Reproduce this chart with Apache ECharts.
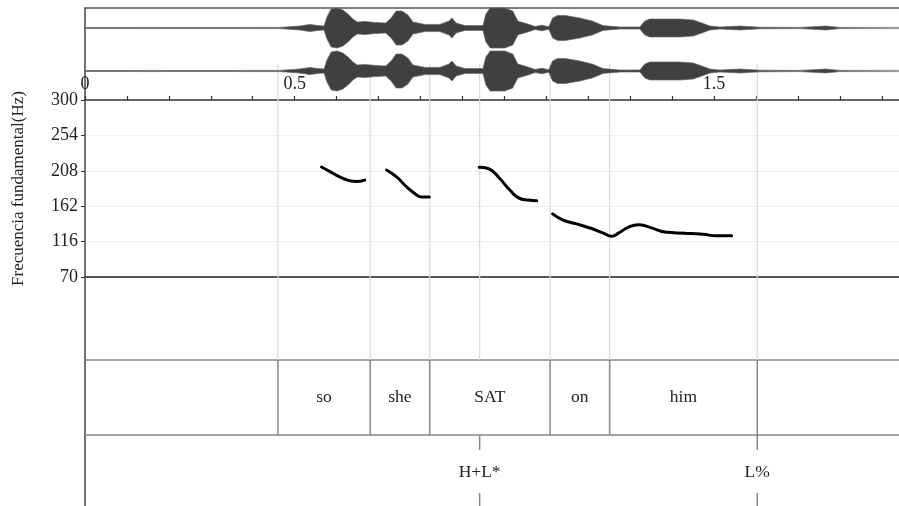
<!DOCTYPE html>
<html><head><meta charset="utf-8">
<script src="https://cdn.jsdelivr.net/npm/echarts@6/dist/echarts.min.js"></script>
<style>html,body{margin:0;padding:0;background:#fff}#c{width:899px;height:506px}</style>
</head><body><div id="c"></div>
<script>
// ---- data ----
const T_MAX = 1.941;                       // seconds shown
const f0Ticks = [70, 116, 162, 208, 254, 300];
const timeLabels = [0, 0.5, 1.5];
// waveform amplitude envelope [time s, relative amplitude]
const waveEnvelope = [
  [0.000,0.02],[0.155,0.03],[0.273,0.02],[0.392,0.03],[0.464,0.03],[0.512,0.10],
  [0.536,0.18],[0.556,0.12],[0.570,0.10],[0.577,0.55],[0.587,0.95],[0.601,1.00],
  [0.615,0.90],[0.627,0.70],[0.639,0.45],[0.649,0.30],[0.668,0.33],[0.691,0.28],
  [0.717,0.25],[0.730,0.50],[0.742,0.85],[0.756,0.85],[0.770,0.65],[0.782,0.30],
  [0.811,0.18],[0.846,0.18],[0.868,0.35],[0.875,0.50],[0.885,0.25],[0.906,0.12],
  [0.949,0.12],[0.956,0.70],[0.966,1.00],[1.001,1.00],[1.020,0.85],[1.032,0.35],
  [1.056,0.20],[1.073,0.08],[1.090,0.14],[1.106,0.06],[1.115,0.50],[1.127,0.63],
  [1.146,0.62],[1.180,0.50],[1.211,0.34],[1.235,0.12],[1.276,0.05],[1.323,0.05],
  [1.335,0.35],[1.347,0.45],[1.419,0.45],[1.450,0.40],[1.471,0.25],[1.490,0.10],
  [1.514,0.05],[1.562,0.10],[1.609,0.04],[1.705,0.03],[1.767,0.10],[1.800,0.03],
  [1.941,0.03]
];
// F0 contour pieces [time s, Hz]
const pitchSo = [[0.564,213],[0.584,207],[0.600,202],[0.616,198],[0.631,195],[0.647,194],[0.667,196]];
const pitchShe = [[0.719,209],[0.743,200],[0.767,187],[0.790,177],[0.802,174],[0.821,174]];
const pitchSat = [[0.940,212.5],[0.961,211],[0.989,198],[1.013,183],[1.037,172],[1.057,170],[1.077,169]];
const pitchOnHim = [[1.115,152],[1.140,144],[1.172,139],[1.208,133],[1.236,127],[1.256,123],[1.272,127],
  [1.295,134.5],[1.319,138],[1.347,134.5],[1.387,128],[1.430,127],[1.474,125.5],
  [1.506,123.5],[1.542,123.5]];
// word tier [label, start, end]
const wordTier = [["",0,0.460],["so",0.460,0.680],["she",0.680,0.822],["SAT",0.822,1.109],
  ["on",1.109,1.251],["him",1.251,1.603],["",1.603,1.941]];
// tone tier [label, time]
const toneTier = [["H+L*",0.941],["L%",1.603]];

// ---- derived ----
const F0_BASE = f0Ticks[0];
const F0_STEP = f0Ticks[1] - f0Ticks[0];
const F0_SPAN = f0Ticks[f0Ticks.length-1] - F0_BASE;
const guideTimes = [];
wordTier.forEach(w => { if (w[1] > 0) guideTimes.push(w[1]); });
toneTier.forEach(t => { if (!guideTimes.some(g => Math.abs(g - t[1]) < 1e-6)) guideTimes.push(t[1]); });
const FONT = '"Liberation Serif", "Times New Roman", serif';

const L = 85;
const grids = [
  {left:L, right:0, top:8, height:40},     // 0 channel 1
  {left:L, right:0, top:51, height:40},    // 1 channel 2
  {left:L, right:0, top:100, height:177},  // 2 pitch
  {left:L, right:0, top:64, height:296},   // 3 guide lines
  {left:L, right:0, top:360, height:75},   // 4 word tier
  {left:L, right:0, top:435, height:72},   // 5 tone tier
  {left:L, right:0, top:8, height:499}     // 6 frame
];
const hiddenX = i => ({type:'value', gridIndex:i, min:0, max:T_MAX, show:false});
const xAxes = [
  hiddenX(0), hiddenX(1),
  {type:'value', gridIndex:2, min:0, max:T_MAX, interval:0.1, position:'top',
   axisLine:{show:true, onZero:false, lineStyle:{color:'#333', width:1.5}},
   axisTick:{show:true, length:4, lineStyle:{color:'#333', width:1.2}},
   splitLine:{show:false},
   axisLabel:{show:true, margin:7, fontFamily:FONT, fontSize:18, color:'#222', showMinLabel:true, showMaxLabel:false,
     formatter: v => { const m = timeLabels.find(l => Math.abs(l - v) < 1e-6); return m === undefined ? '' : String(m); }}},
  hiddenX(3),
  {type:'value', gridIndex:4, min:0, max:T_MAX, position:'top',
   axisLine:{show:true, onZero:false, lineStyle:{color:'#888', width:1.5}}, axisTick:{show:false}, axisLabel:{show:false}, splitLine:{show:false}},
  {type:'value', gridIndex:5, min:0, max:T_MAX, position:'top',
   axisLine:{show:true, onZero:false, lineStyle:{color:'#888', width:1.5}}, axisTick:{show:false}, axisLabel:{show:false}, splitLine:{show:false}},
  {type:'value', gridIndex:6, min:0, max:T_MAX, position:'top',
   axisLine:{show:true, onZero:false, lineStyle:{color:'#555', width:1.5}}, axisTick:{show:false}, axisLabel:{show:false}, splitLine:{show:false}},
  {type:'value', gridIndex:2, min:0, max:T_MAX, position:'bottom',
   axisLine:{show:true, onZero:false, lineStyle:{color:'#555', width:2}}, axisTick:{show:false}, axisLabel:{show:false}, splitLine:{show:false}}
];
const yAxes = [
  {type:'value', gridIndex:0, min:-1, max:1, show:false},
  {type:'value', gridIndex:1, min:-1, max:1, show:false},
  {type:'value', gridIndex:2, min:0, max:F0_SPAN, interval:F0_STEP,
   name:'Frecuencia fundamental(Hz)', nameLocation:'middle', nameGap:58,
   nameTextStyle:{fontFamily:FONT, fontSize:17, color:'#222'},
   axisLine:{show:false}, axisTick:{show:true, length:4, lineStyle:{color:'#333'}},
   axisLabel:{margin:7, fontFamily:FONT, fontSize:18, color:'#222', formatter: v => String(v + F0_BASE)},
   splitLine:{show:true, lineStyle:{color:'#efefef', width:1}}},
  {type:'value', gridIndex:3, min:0, max:1, show:false},
  {type:'value', gridIndex:4, min:0, max:1, show:false},
  {type:'value', gridIndex:5, min:0, max:1, show:false},
  {type:'value', gridIndex:6, min:0, max:1, axisLine:{show:true, lineStyle:{color:'#444', width:1.5}},
   axisTick:{show:false}, axisLabel:{show:false}, splitLine:{show:false}}
];

const waveSeries = [];
[0,1].forEach(ch => {
  [1,-1].forEach(sign => {
    waveSeries.push({type:'line', xAxisIndex:ch, yAxisIndex:ch, symbol:'none', silent:true, clip:false,
      data: waveEnvelope.map(p => [p[0], sign*p[1]]),
      lineStyle:{color:'#666', width:0.7}, areaStyle:{color:'#404040', opacity:1}, z:3});
  });
});
const pitchSeries = [pitchSo, pitchShe, pitchSat, pitchOnHim].map(seg => ({
  type:'line', xAxisIndex:2, yAxisIndex:2, symbol:'none', smooth:0.5, silent:true, clip:false,
  data: seg.map(p => [p[0], p[1] - F0_BASE]),
  lineStyle:{color:'#000', width:3, cap:'round'}, z:5
}));

const guideSeries = {
  type:'custom', xAxisIndex:3, yAxisIndex:3, silent:true, clip:false, z:1,
  data: guideTimes.map(t => [t, 0]), encode:{x:0, y:1},
  renderItem: (params, api) => {
    const t = api.value(0);
    const a = api.coord([t, 0]), b = api.coord([t, 1]);
    return {type:'line', shape:{x1:a[0], y1:a[1], x2:b[0], y2:b[1]}, style:{stroke:'#dadada', lineWidth:1.2}};
  }
};
const wordSeries = {
  type:'custom', xAxisIndex:4, yAxisIndex:4, silent:true, clip:false, z:4,
  data: wordTier.map(w => [w[1], w[2]]), encode:{x:[0,1]},
  renderItem: (params, api) => {
    const s = api.value(0), e = api.value(1);
    const label = wordTier[params.dataIndex][0];
    const children = [];
    if (s > 0) {
      const a = api.coord([s, 0]), b = api.coord([s, 1]);
      children.push({type:'line', shape:{x1:a[0], y1:a[1], x2:b[0], y2:b[1]}, style:{stroke:'#888', lineWidth:1.5}});
    }
    if (label) {
      const m = api.coord([(s + e) / 2, 0.5]);
      children.push({type:'text', x:m[0], y:m[1], style:{text:label, fontFamily:FONT, fontSize:17.5, fill:'#222', align:'center', verticalAlign:'middle'}});
    }
    return {type:'group', children};
  }
};
const toneSeries = {
  type:'custom', xAxisIndex:5, yAxisIndex:5, silent:true, clip:false, z:4,
  data: toneTier.map(t => [t[1], 0.5]), encode:{x:0, y:1},
  renderItem: (params, api) => {
    const t = api.value(0);
    const top = api.coord([t, 1]), bot = api.coord([t, 0]), mid = api.coord([t, 0.5]);
    return {type:'group', children:[
      {type:'line', shape:{x1:top[0], y1:top[1], x2:top[0], y2:top[1] + 15}, style:{stroke:'#888', lineWidth:1.5}},
      {type:'line', shape:{x1:bot[0], y1:bot[1] - 13, x2:bot[0], y2:bot[1]}, style:{stroke:'#888', lineWidth:1.5}},
      {type:'text', x:mid[0], y:mid[1] + 2, style:{text:toneTier[params.dataIndex][0], fontFamily:FONT, fontSize:17.5, fill:'#222', align:'center', verticalAlign:'middle'}}
    ]};
  }
};

const chart = echarts.init(document.getElementById('c'), null, {renderer:'canvas'});
chart.setOption({
  animation:false,
  backgroundColor:'#fff',
  grid: grids,
  xAxis: xAxes,
  yAxis: yAxes,
  series: [guideSeries, ...waveSeries, ...pitchSeries, wordSeries, toneSeries]
});
</script></body></html>
